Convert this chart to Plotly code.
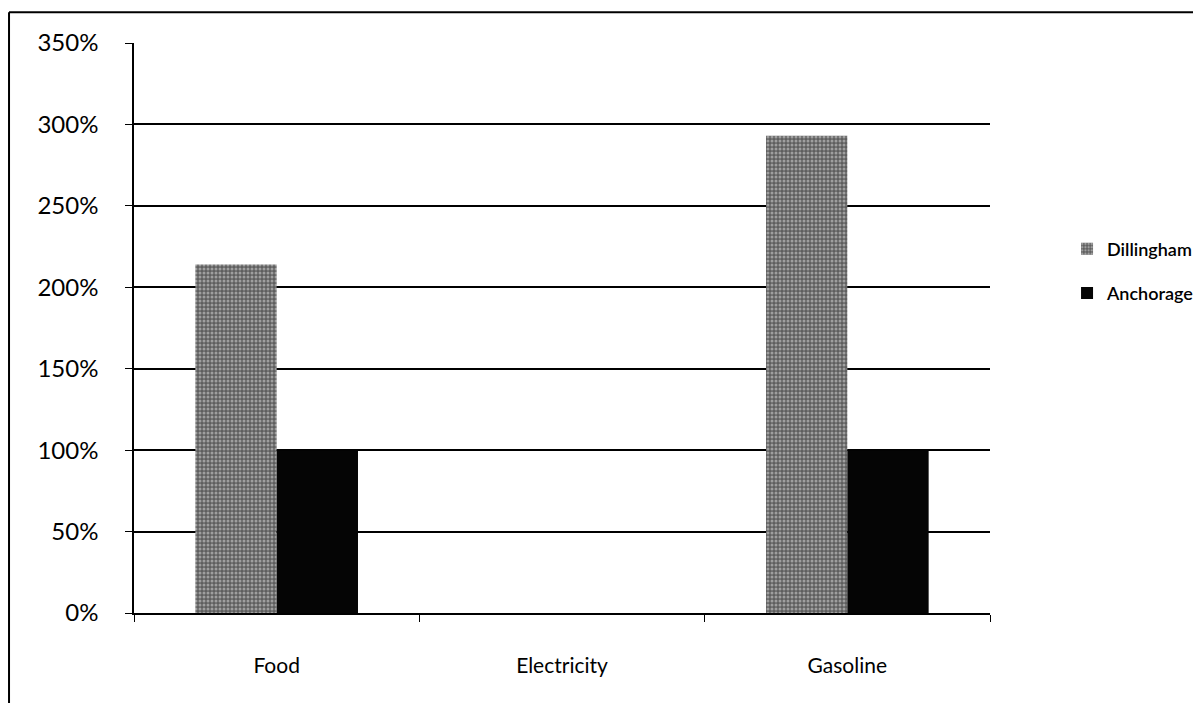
import plotly.graph_objects as go

# ---- data ----
categories = ["Food", "Electricity", "Gasoline"]
dillingham = [2.14, None, 2.93]
anchorage = [1.00, None, 1.00]
y_ticks = [0, 0.5, 1.0, 1.5, 2.0, 2.5, 3.0, 3.5]
y_labels = ["0%", "50%", "100%", "150%", "200%", "250%", "300%", "350%"]

FONT = "Lato, 'Open Sans', sans-serif"

fig = go.Figure()

# ---- speckled grey bars ----
fig.add_trace(
    go.Bar(
        x=categories,
        y=dillingham,
        name="Dillingham",
        legendgroup="d",
        marker=dict(
            color="#7a7a7a",
            line=dict(width=0),
            pattern=dict(
                shape=".",
                fgcolor="#e0e0e0",
                bgcolor="#5e5e5e",
                size=4,
                solidity=0.45,
            ),
        ),
    )
)

# ---- solid black bars ----
fig.add_trace(
    go.Bar(
        x=categories,
        y=anchorage,
        name="Anchorage",
        legendgroup="a",
        marker=dict(color="#050505", line=dict(width=0)),
    )
)

# ---- outer frame (left + top edge) ----
fig.add_shape(type="line", xref="paper", yref="paper",
              x0=-0.146, x1=-0.146, y0=-0.25, y1=1.054,
              line=dict(color="black", width=2))
fig.add_shape(type="line", xref="paper", yref="paper",
              x0=-0.146, x1=1.3, y0=1.054, y1=1.054,
              line=dict(color="black", width=2))

fig.update_layout(
    width=1201,
    height=703,
    margin=dict(l=126, r=219, t=35, b=98, autoexpand=False),
    paper_bgcolor="white",
    plot_bgcolor="white",
    barmode="group",
    bargap=0.43,
    bargroupgap=0,
    font=dict(family=FONT, size=22, color="black"),
    legend=dict(
        x=1.09,
        y=0.6,
        xanchor="left",
        yanchor="middle",
        font=dict(size=18, color="black", weight=600),
        itemwidth=30,
        tracegroupgap=18,
        bgcolor="rgba(0,0,0,0)",
    ),
    xaxis=dict(
        type="category",
        showline=True,
        linecolor="black",
        linewidth=1.5,
        ticks="outside",
        tickson="boundaries",
        ticklen=7,
        tickcolor="black",
        showgrid=False,
        tickfont=dict(size=21),
        ticklabelstandoff=33,
    ),
    yaxis=dict(
        range=[0, 3.5],
        tickvals=y_ticks,
        ticktext=y_labels,
        showline=True,
        linecolor="black",
        linewidth=1.5,
        ticks="outside",
        ticklen=7,
        tickcolor="black",
        showgrid=True,
        gridcolor="black",
        gridwidth=1.5,
        zeroline=False,
        tickfont=dict(size=24),
        ticklabelstandoff=22,
    ),
)

fig.write_html("out.html")
